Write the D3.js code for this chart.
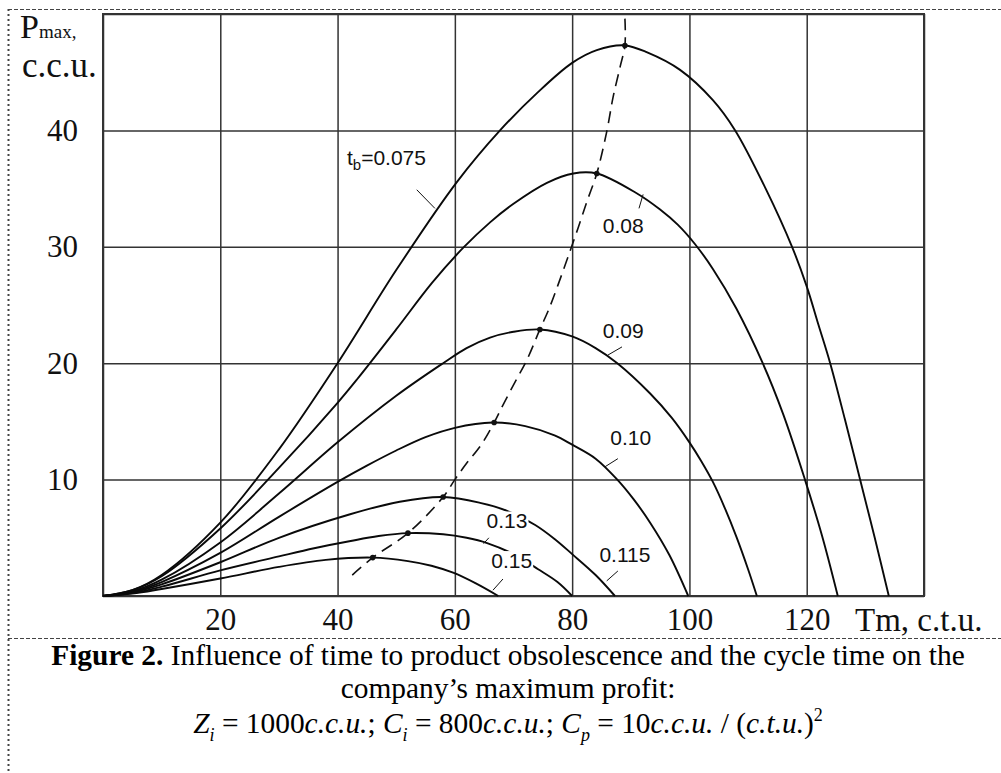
<!DOCTYPE html>
<html>
<head>
<meta charset="utf-8">
<script src="https://cdn.jsdelivr.net/npm/d3@7/dist/d3.min.js"></script>
<style>
  html, body { margin: 0; padding: 0; background: #fff; }
  svg { display: block; }
  .grid line { stroke: #333; stroke-width: 1.5; }
  .grid path { display: none; }
  .ticks path { display: none; }
  .ticks text { font-family: "Liberation Serif", "Times New Roman", serif; font-size: 31px; fill: #111; }
  .curve { fill: none; stroke: #0a0a0a; stroke-width: 1.9; }
  .locus { fill: none; stroke: #111; stroke-width: 1.6; stroke-dasharray: 12 7; }
  .lbl { font-family: "Liberation Sans", Arial, sans-serif; font-size: 21px; fill: #111; }
  .leader { stroke: #111; stroke-width: 1; }
  .title { font-family: "Liberation Serif", "Times New Roman", serif; fill: #111; }
  .caption { font-family: "Liberation Serif", "Times New Roman", serif; font-size: 29.4px; fill: #000; }
</style>
</head>
<body>
<svg id="chart"></svg>
<script>

//////////
// DATA //
//////////

// t_b values, one curve each
let tbLabels = ["0.075", "0.08", "0.09", "0.10", "0.115", "0.13", "0.15"];

// Tm (c.t.u.) and Pmax (c.c.u.)
let tm075 = [0, 5, 10, 20, 30, 40, 50, 60.4, 67.7, 74, 80, 84.2, 89, 92.8, 98.4, 104, 107.8, 113, 117.5, 120, 122, 124, 126.5, 129.1, 131.6, 134];
let p075  = [0, 0.5, 1.8, 6.3, 12.6, 20, 28, 35.6, 40, 43.2, 45.8, 46.9, 47.3, 46.7, 45.2, 42.6, 40, 35, 30, 26.6, 23.3, 20, 15.2, 10, 5, 0];

let tm08 = [0, 5, 10, 20, 30, 40, 43.3, 50, 56.1, 61.4, 66, 70, 75.7, 80.2, 84.2, 91, 95, 98, 101, 104, 108, 112.5, 116, 119.7, 122.6, 125.3];
let p08  = [0, 0.5, 1.7, 5.8, 11, 16.6, 18.6, 22.9, 26.9, 29.9, 32.1, 33.7, 35.5, 36.3, 36.3, 34.6, 33.2, 31.9, 30.2, 28.1, 24.7, 20, 15.6, 10, 5.2, 0];

let tm09 = [0, 5, 10, 20, 30, 40, 50, 58, 62, 66, 70, 74.5, 80, 84, 87.7, 93.3, 97, 100, 102, 104, 106, 108, 110, 111.5];
let p09  = [0, 0.4, 1.4, 4.6, 8.8, 13.2, 17.2, 20, 21.3, 22.2, 22.7, 22.9, 22.3, 21.3, 20, 17.4, 15.3, 13.2, 11.6, 9.8, 7.6, 5.1, 2.3, 0];

let tm10 = [0, 5, 10, 20, 30, 40, 45, 50, 55, 60, 66.5, 72, 77, 80, 84, 87.7, 90.5, 93.3, 96.6, 99.8];
let p10  = [0, 0.35, 1.2, 3.7, 6.8, 9.8, 11.2, 12.5, 13.65, 14.45, 14.9, 14.6, 13.8, 13, 11.8, 10, 8.3, 6.3, 3.5, 0];

let tm115 = [0, 5, 10, 20, 30, 42, 50.6, 58, 64.3, 69, 73.7, 77, 80, 84, 87.3];
let p115  = [0, 0.3, 1.0, 2.9, 5, 7, 8.1, 8.5, 8.0, 7.3, 6.1, 4.9, 3.6, 1.8, 0];

let tm13 = [0, 5, 10, 20, 30, 36, 42, 47, 52, 58, 62, 65.5, 70, 74.2, 77.5, 80];
let p13  = [0, 0.25, 0.8, 2.2, 3.4, 4.1, 4.7, 5.15, 5.4, 5.3, 5.0, 4.55, 3.6, 2.3, 1.2, 0];

let tm15 = [0, 5, 10, 20, 30, 38, 46, 52, 56, 59.7, 63.5, 67.4];
let p15  = [0, 0.2, 0.6, 1.5, 2.5, 3.1, 3.3, 3.0, 2.6, 2.0, 1.1, 0];

// locus of the maxima (dashed) and the marked maxima
let locusTm = [42.5, 46, 52, 58, 60, 62, 64.5, 66.7, 68.4, 70.5, 72.3, 74.5, 76, 77.5, 79.2, 81, 82.6, 84.2, 85.9, 87, 88.2, 89, 89];
let locusP  = [1.8, 3.3, 5.4, 8.5, 10, 11.4, 13, 14.9, 16.6, 18.6, 20.3, 22.9, 24.6, 26.6, 29, 31.6, 34, 36.3, 39.9, 42.9, 45.5, 47.3, 49.6];
let peakTm = [89, 84.2, 74.5, 66.7, 58, 52, 46];
let peakP  = [47.3, 36.3, 22.9, 14.9, 8.5, 5.4, 3.3];

// axes
let xTickVals = [20, 40, 60, 80, 100, 120];
let yTickVals = [10, 20, 30, 40];
let xGridVals = [0, 20, 40, 60, 80, 100, 120, 140];
let yGridVals = [0, 10, 20, 30, 40, 50];

///////////
// CHART //
///////////

let width = 1001, height = 773;
let plotL = 103, plotR = 924, plotT = 14, plotB = 596;

let svg = d3.select("#chart")
  .attr("width", width)
  .attr("height", height)
  ;

svg.append("rect")
  .attr("width", width)
  .attr("height", height)
  .attr("fill", "#fff")
  ;

// page frame bits of the scanned figure
svg.append("line")
  .attr("x1", 8).attr("x2", width).attr("y1", 9.5).attr("y2", 9.5)
  .attr("stroke", "#444").attr("stroke-width", 1.2).attr("stroke-dasharray", "4 2")
  ;
svg.append("line")
  .attr("x1", 8.5).attr("x2", 8.5).attr("y1", 9).attr("y2", height)
  .attr("stroke", "#444").attr("stroke-width", 2).attr("stroke-dasharray", "2 3")
  ;
svg.append("line")
  .attr("x1", 8).attr("x2", width).attr("y1", 638.5).attr("y2", 638.5)
  .attr("stroke", "#444").attr("stroke-width", 1.2).attr("stroke-dasharray", "4 2")
  ;

let x = d3.scaleLinear().domain([0, 140]).range([plotL, plotR]);
let y = d3.scaleLinear().domain([0, 50]).range([plotB, plotT]);

// grid
svg.append("g")
  .attr("class", "grid")
  .attr("transform", `translate(0, ${plotB})`)
  .call(d3.axisBottom(x).tickValues(xGridVals).tickSize(-(plotB - plotT)).tickFormat(""))
  ;
svg.append("g")
  .attr("class", "grid")
  .attr("transform", `translate(${plotL}, 0)`)
  .call(d3.axisLeft(y).tickValues(yGridVals).tickSize(-(plotR - plotL)).tickFormat(""))
  ;
svg.append("rect")
  .attr("x", plotL).attr("y", plotT)
  .attr("width", plotR - plotL).attr("height", plotB - plotT)
  .attr("fill", "none").attr("stroke", "#333").attr("stroke-width", 2)
  ;

// tick labels
svg.append("g")
  .attr("class", "ticks")
  .attr("transform", `translate(0, ${plotB})`)
  .call(d3.axisBottom(x).tickValues(xTickVals).tickSize(0).tickPadding(12))
  ;
svg.append("g")
  .attr("class", "ticks")
  .attr("transform", `translate(${plotL}, 0)`)
  .call(d3.axisLeft(y).tickValues(yTickVals).tickSize(0).tickPadding(25))
  ;

// axis titles
let yTitle = svg.append("text").attr("class", "title").attr("x", 20).attr("y", 38);
yTitle.append("tspan").attr("font-size", 34).text("P");
yTitle.append("tspan").attr("font-size", 19).text("max,");
svg.append("text").attr("class", "title")
  .attr("x", 22).attr("y", 77).attr("font-size", 35)
  .text("c.c.u.")
  ;
svg.append("text").attr("class", "title")
  .attr("x", 855).attr("y", 631).attr("font-size", 33)
  .text("Tm, c.t.u.")
  ;

// curves
let series = [
  { tb: tbLabels[0], tm: tm075, p: p075 },
  { tb: tbLabels[1], tm: tm08, p: p08 },
  { tb: tbLabels[2], tm: tm09, p: p09 },
  { tb: tbLabels[3], tm: tm10, p: p10 },
  { tb: tbLabels[4], tm: tm115, p: p115 },
  { tb: tbLabels[5], tm: tm13, p: p13 },
  { tb: tbLabels[6], tm: tm15, p: p15 }
];

let line = d3.line()
  .x(d => x(d[0]))
  .y(d => y(d[1]))
  .curve(d3.curveCatmullRom.alpha(0.5))
  ;

svg.selectAll(".curve")
  .data(series)
  .enter()
  .append("path")
  .attr("class", "curve")
  .attr("d", d => line(d.tm.map((t, i) => [t, d.p[i]])))
  ;

// labels, placed in data units next to their curve (white box hides the curve under it)
let notes = [
  { text: "0.075", sub: true, at: [41.6, 37.0], anchor: "start", lead: [[53.5, 34.9], [56.6, 33.3]] },
  { text: tbLabels[1], at: [88.7, 31.2], lead: [[92.1, 34.5], [91.4, 33.3]] },
  { text: tbLabels[2], at: [88.7, 22.2], lead: [[88.5, 21.4], [86.1, 20.7]] },
  { text: tbLabels[3], at: [90.0, 13.0], lead: [[87.8, 11.8], [85.6, 11.1]] },
  { text: tbLabels[4], at: [89.0, 2.9], lead: [[87.8, 2.15], [85.9, 1.3]] },
  { text: tbLabels[5], at: [68.9, 5.8], lead: [[65.8, 5.0], [64.9, 4.5]] },
  { text: tbLabels[6], at: [69.7, 2.4], lead: [[68.2, 1.46], [66.5, 0.5]] }
];

notes.forEach(n => {
  svg.append("line")
    .attr("class", "leader")
    .attr("x1", x(n.lead[0][0])).attr("y1", y(n.lead[0][1]))
    .attr("x2", x(n.lead[1][0])).attr("y2", y(n.lead[1][1]))
    ;
  let g = svg.append("g");
  let t = g.append("text")
    .attr("class", "lbl")
    .attr("x", x(n.at[0]))
    .attr("y", y(n.at[1]))
    .attr("text-anchor", n.anchor || "middle")
    ;
  if (n.sub) {
    t.append("tspan").text("t");
    t.append("tspan").attr("font-size", 15).attr("dy", 5).text("b");
    t.append("tspan").attr("dy", -5).text("=" + n.text);
  } else {
    t.text(n.text);
  }
  let bb = t.node().getBBox();
  g.insert("rect", "text")
    .attr("x", bb.x - 1).attr("y", bb.y + 2)
    .attr("width", bb.width + 2).attr("height", bb.height - 3)
    .attr("fill", "#fff")
    ;
});

// locus of maxima
let locus = d3.line()
  .x(d => x(d[0]))
  .y(d => y(d[1]))
  .curve(d3.curveCatmullRom)
  ;
svg.append("path")
  .attr("class", "locus")
  .attr("d", locus(locusTm.map((t, i) => [t, locusP[i]])))
  ;
svg.selectAll(".peak")
  .data(peakTm.map((t, i) => [t, peakP[i]]))
  .enter()
  .append("circle")
  .attr("class", "peak")
  .attr("cx", d => x(d[0]))
  .attr("cy", d => y(d[1]))
  .attr("r", 2.8)
  .attr("fill", "#111")
  ;

/////////////
// CAPTION //
/////////////

let cx = 508;
let cap1 = svg.append("text").attr("class", "caption").attr("x", cx).attr("y", 665).attr("text-anchor", "middle");
cap1.append("tspan").attr("font-weight", "bold").text("Figure 2.");
cap1.append("tspan").text(" Influence of time to product obsolescence and the cycle time on the");

svg.append("text").attr("class", "caption")
  .attr("x", cx).attr("y", 698).attr("text-anchor", "middle")
  .text("company\u2019s maximum profit:")
  ;

// formula line
let f = svg.append("text").attr("class", "caption").attr("x", cx).attr("y", 733)
  .attr("text-anchor", "middle").attr("font-size", 30);
let parts = [
  ["Z", "i"], ["i", "s"], [" = 1000", "n"], ["c.c.u.", "i"], ["; ", "n"],
  ["C", "i"], ["i", "s"], [" = 800", "n"], ["c.c.u.", "i"], ["; ", "n"],
  ["C", "i"], ["p", "s"], [" = 10", "n"], ["c.c.u.", "i"], [" / (", "n"],
  ["c.t.u.", "i"], [")", "n"], ["2", "u"]
];
let shift = 0;
parts.forEach(p => {
  let ts = f.append("tspan").text(p[0]);
  let dy = 0;
  if (p[1] == "i") ts.attr("font-style", "italic");
  if (p[1] == "s") { ts.attr("font-style", "italic").attr("font-size", 18); dy = 8; }
  if (p[1] == "u") { ts.attr("font-size", 18); dy = -12; }
  ts.attr("dy", dy - shift);
  shift = dy;
});

</script>
</body>
</html>
